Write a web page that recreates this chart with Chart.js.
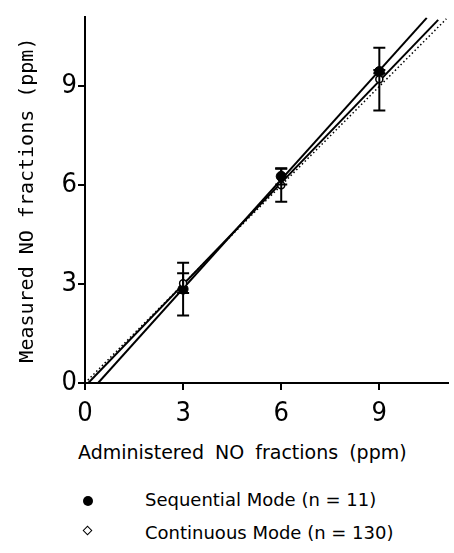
<!DOCTYPE html>
<html>
<head>
<meta charset="utf-8">
<title>Measured vs administered NO</title>
<script src="https://cdn.jsdelivr.net/npm/chart.js@4"></script>
<style>
    body { margin: 0; background: #fff; }
    .wrap { position: relative; width: 454px; height: 553px; }
    .plot { position: absolute; left: 0; top: 0; width: 454px; height: 430px; }
    .txt {
        position: absolute;
        font-family: "DejaVu Sans", Verdana, sans-serif;
        font-size: 18px;
        color: #000;
        white-space: nowrap;
        line-height: 20px;
    }
    .xtitle { font-size: 19px; word-spacing: 5px; }
    .dot {
        position: absolute; width: 10px; height: 10px;
        border-radius: 50%; background: #000;
    }
    .dia {
        position: absolute; width: 5px; height: 5px;
        border: 1.5px solid #000; background: #fff;
        transform: rotate(45deg);
    }
</style>
</head>
<body>
<div class="wrap">
    <div class="plot"><canvas id="chart" width="454" height="430"></canvas></div>
    <div class="txt xtitle" style="left:78px; top:442px;">Administered NO fractions (ppm)</div>
    <div class="dot" style="left:83px; top:496px;"></div>
    <div class="txt" style="left:145px; top:490px;">Sequential Mode (n = 11)</div>
    <div class="dia" style="left:84px; top:527px;"></div>
    <div class="txt" style="left:145px; top:523px;">Continuous Mode (n = 130)</div>
</div>
<script>
// administered fractions (ppm)
const doses = [3, 6, 9];

// sequential mode (n = 11)
const seqMean = [2.85, 6.27, 9.45];
const seqSd = [0.8, 0.25, 0.05];

// continuous mode (n = 130)
const contMean = [3.03, 6.0, 9.22];
const contSd = [0.3, 0.5, 0.95];

// fitted lines, end points
const seqFitX = [0.4, 10.45];
const seqFitY = [0, 11.08];
const contFitX = [0.1, 10.8];
const contFitY = [0, 11.02];
const identX = [0, 11.05];
const identY = [0, 11.05];

const tickValues = [0, 3, 6, 9];

const pts = (xs, ys) => xs.map((x, i) => ({ x: x, y: ys[i] }));

const tickFont = { family: "'Liberation Sans Narrow', 'DejaVu Sans Condensed', 'Liberation Sans', sans-serif", size: 27 };

// error bars drawn through the chart scales
const errorBars = {
    id: 'errorBars',
    afterDatasetsDraw(chart) {
        const { ctx, scales: { x, y } } = chart;
        ctx.save();
        ctx.strokeStyle = '#000';
        ctx.lineWidth = 2;
        const draw = (means, sds) => {
            doses.forEach((d, i) => {
                const px = x.getPixelForValue(d);
                const top = y.getPixelForValue(means[i] + sds[i]);
                const bot = y.getPixelForValue(means[i] - sds[i]);
                ctx.beginPath();
                ctx.moveTo(px, top); ctx.lineTo(px, bot);
                ctx.moveTo(px - 6, top); ctx.lineTo(px + 6, top);
                ctx.moveTo(px - 6, bot); ctx.lineTo(px + 6, bot);
                ctx.stroke();
            });
        };
        draw(seqMean, seqSd);
        draw(contMean, contSd);
        ctx.restore();
    }
};

new Chart(document.getElementById('chart'), {
    type: 'scatter',
    data: {
        datasets: [
            {
                label: 'Sequential Mode (n = 11)',
                data: pts(doses, seqMean),
                pointRadius: 5,
                pointBackgroundColor: '#000',
                pointBorderColor: '#000',
                order: 1
            },
            {
                label: 'Continuous Mode (n = 130)',
                data: pts(doses, contMean),
                pointRadius: 3.5,
                pointBackgroundColor: '#fff',
                pointBorderColor: '#000',
                pointBorderWidth: 1.5,
                order: 0
            },
            {
                type: 'line',
                data: pts(seqFitX, seqFitY),
                borderColor: '#000',
                borderWidth: 2,
                pointRadius: 0,
                order: 3
            },
            {
                type: 'line',
                data: pts(contFitX, contFitY),
                borderColor: '#000',
                borderWidth: 2,
                pointRadius: 0,
                order: 3
            },
            {
                type: 'line',
                data: pts(identX, identY),
                borderColor: '#000',
                borderWidth: 1.5,
                borderDash: [1.5, 2.5],
                pointRadius: 0,
                order: 4
            }
        ]
    },
    options: {
        responsive: false,
        animation: false,
        layout: { padding: { left: 0, right: 2, top: 14, bottom: 0 } },
        plugins: { legend: { display: false }, tooltip: { enabled: false } },
        scales: {
            x: {
                type: 'linear',
                min: 0,
                max: 11.1,
                afterBuildTicks: (s) => { s.ticks = tickValues.map(v => ({ value: v })); },
                afterFit: (s) => { s.height = 47; },
                grid: { drawOnChartArea: false, drawTicks: true, tickLength: 7, color: '#000', lineWidth: 2 },
                border: { color: '#000', width: 2 },
                ticks: { color: '#000', font: tickFont, padding: 8, maxRotation: 0 }
            },
            y: {
                type: 'linear',
                min: 0,
                max: 11.1,
                afterBuildTicks: (s) => { s.ticks = tickValues.map(v => ({ value: v })); },
                afterFit: (s) => { s.width = 85; },
                grid: { drawOnChartArea: false, drawTicks: true, tickLength: 7, color: '#000', lineWidth: 2 },
                border: { color: '#000', width: 2 },
                ticks: { color: '#000', font: tickFont, padding: 1 },
                title: {
                    display: true,
                    text: 'Measured NO fractions (ppm)',
                    color: '#000',
                    font: { family: "'DejaVu Sans Mono', monospace", size: 20 },
                    padding: { top: 16, bottom: 0 }
                }
            }
        }
    },
    plugins: [errorBars]
});
</script>
</body>
</html>
